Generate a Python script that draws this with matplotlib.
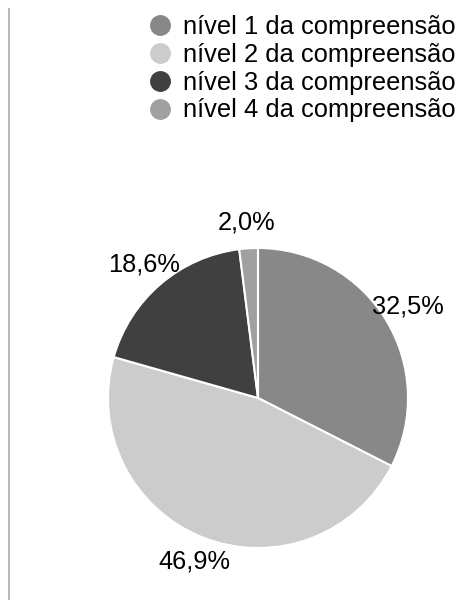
import matplotlib
matplotlib.use("Agg")
import matplotlib.pyplot as plt
from matplotlib.lines import Line2D

categories = ["nível 1 da compreensão", "nível 2 da compreensão",
              "nível 3 da compreensão", "nível 4 da compreensão"]
values = [32.5, 46.9, 18.6, 2.0]
colors = ["#888888", "#cccccc", "#404040", "#a0a0a0"]

plt.rcParams['font.family'] = ['Liberation Sans', 'DejaVu Sans']

fig = plt.figure(figsize=(4.59, 6.00), dpi=100)
fig.patch.set_facecolor("white")

# left vertical rule
fig.add_artist(Line2D([8.5/459, 8.5/459], [0, 1 - 9/600], color="#bbbbbb", lw=1.5))

ax = fig.add_axes([108/459, 52/600, 300/459, 300/600])
wedges, texts, autotexts = ax.pie(
    values, colors=colors, startangle=90, counterclock=False,
    autopct=lambda p: f"{p:.1f}%".replace(".", ","), pctdistance=1.17,
    wedgeprops=dict(edgecolor="white", linewidth=1.5),
    textprops=dict(fontsize=18.3, color="black"))
ax.set_aspect("equal")
ax.set_xlim(-1, 1)
ax.set_ylim(-1, 1)

handles = [Line2D([0], [0], marker="o", linestyle="none", markersize=14,
                  markerfacecolor=c, markeredgecolor=c) for c in colors]
fig.legend(handles, categories, loc="upper left", bbox_to_anchor=(145/459, 1 - 15/600),
           frameon=False, fontsize=18.4, handletextpad=0.3, labelspacing=0.15,
           borderpad=0, borderaxespad=0, handlelength=1.2)

fig.savefig("out.png", dpi=100, facecolor="white")
